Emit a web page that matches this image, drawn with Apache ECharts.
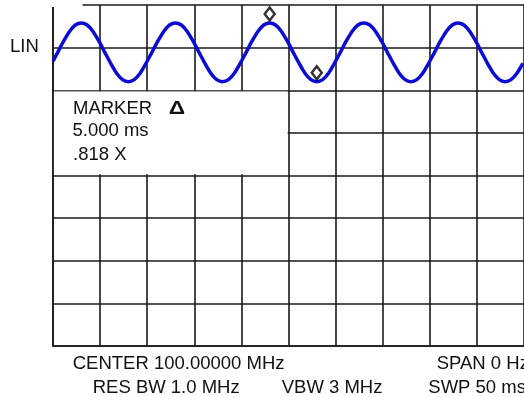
<!DOCTYPE html>
<html>
<head>
<meta charset="utf-8">
<script src="https://cdn.jsdelivr.net/npm/echarts@6/dist/echarts.min.js"></script>
<style>
  html, body { margin: 0; padding: 0; background: #fff; }
  #chart { width: 524px; height: 397px; }
</style>
</head>
<body>
<div id="chart"></div>
<script>
// Zero-span sweep: detected level on a linear scale (graticule divisions) vs time (ms)
const traceTime = [
  0,
  0.5, 1.125, 1.75, 2.375, 3, 3.625, 4.25, 4.875, 5.5, 6.125, 6.75, 7.375, 8, 8.625, 9.25, 9.875,
  10.5, 11.125, 11.75, 12.375, 13, 13.625, 14.25, 14.875, 15.5, 16.125, 16.75, 17.375, 18, 18.625, 19.25, 19.875,
  20.5, 21.125, 21.75, 22.375, 23, 23.625, 24.25, 24.875, 25.5, 26.125, 26.75, 27.375, 28, 28.625, 29.25, 29.875,
  30.5, 31.125, 31.75, 32.375, 33, 33.625, 34.25, 34.875, 35.5, 36.125, 36.75, 37.375, 38, 38.625, 39.25, 39.875,
  40.5, 41.125, 41.75, 42.375, 43, 43.625, 44.25, 44.875, 45.5, 46.125, 46.75, 47.375, 48, 48.625, 49.25, 49.875
];
const traceLevel = [
  6.68,
  6.89, 7.15, 7.38, 7.53, 7.58, 7.53, 7.38, 7.15, 6.89, 6.63, 6.40, 6.25, 6.20, 6.25, 6.40, 6.63,
  6.89, 7.15, 7.38, 7.53, 7.58, 7.53, 7.38, 7.15, 6.89, 6.63, 6.40, 6.25, 6.20, 6.25, 6.40, 6.63,
  6.89, 7.15, 7.38, 7.53, 7.58, 7.53, 7.38, 7.15, 6.89, 6.63, 6.40, 6.25, 6.20, 6.25, 6.40, 6.63,
  6.89, 7.15, 7.38, 7.53, 7.58, 7.53, 7.38, 7.15, 6.89, 6.63, 6.40, 6.25, 6.20, 6.25, 6.40, 6.63,
  6.89, 7.15, 7.38, 7.53, 7.58, 7.53, 7.38, 7.15, 6.89, 6.63, 6.40, 6.25, 6.20, 6.25, 6.40, 6.63
];

// Reference marker (peak) and delta marker (trough)
const markerTime = [23, 28];
const markerLevel = [7.58, 6.20];

// Readout and instrument settings
const scaleLabel = 'LIN';
const markerTitle = 'MARKER';
const deltaSign = '\u0394';
const markerReadout = ['5.000 ms', '.818 X'];
const footerRow1 = ['CENTER 100.00000 MHz', 'SPAN 0 Hz'];
const footerRow2 = ['RES BW 1.0 MHz', 'VBW 3 MHz', 'SWP 50 ms'];

const FONT = '18.5px "Liberation Sans", Arial, Helvetica, sans-serif';
const INK = '#111';
const GRID_LINE = { color: '#1a1a1a', width: 1.6 };

const chart = echarts.init(document.getElementById('chart'), null, { renderer: 'canvas' });

chart.setOption({
  animation: false,
  backgroundColor: '#fff',
  grid: { left: 53, top: 5, width: 475, height: 341, containLabel: false },
  xAxis: {
    type: 'value', min: 0, max: 50, interval: 5,
    axisLine: { show: true, lineStyle: GRID_LINE },
    axisTick: { show: false },
    axisLabel: { show: false },
    splitLine: { show: true, lineStyle: GRID_LINE }
  },
  yAxis: {
    type: 'value', min: 0, max: 8, interval: 1,
    axisLine: { show: true, lineStyle: GRID_LINE },
    axisTick: { show: false },
    axisLabel: { show: false },
    splitLine: { show: true, lineStyle: GRID_LINE }
  },
  series: [
    {
      type: 'line',
      data: traceTime.map((t, i) => [t, traceLevel[i]]),
      smooth: 0.3,
      showSymbol: false,
      lineStyle: { color: '#0b0bd2', width: 3.5 },
      z: 3
    },
    {
      type: 'scatter',
      data: markerTime.map((t, i) => [t, markerLevel[i]]),
      symbol: 'diamond',
      symbolSize: [10, 13],
      symbolOffset: [0, -9],
      itemStyle: { color: '#fff', borderColor: '#000', borderWidth: 2.5 },
      z: 4
    }
  ]
});

// Readout box spans two graticule rows (levels 4..6) and the left half of the screen
const boxTL = chart.convertToPixel({ gridIndex: 0 }, [0, 6]);
const boxBR = chart.convertToPixel({ gridIndex: 0 }, [25, 4]);
const origin = chart.convertToPixel({ gridIndex: 0 }, [0, 8]);
const linY = chart.convertToPixel({ gridIndex: 0 }, [0, 7])[1];

function label(text, x, y, extra, el) {
  return Object.assign({
    type: 'text', x: x, y: y, z: 20,
    style: Object.assign({ text: text, fill: INK, font: FONT, align: 'left', verticalAlign: 'middle' }, extra || {})
  }, el || {});
}

chart.setOption({
  graphic: [
    // blank corner where the top graticule line starts late
    {
      type: 'rect', z: 15,
      shape: { x: origin[0] - 4, y: 0, width: 33.5, height: origin[1] + 2 },
      style: { fill: '#fff' }
    },
    // readout area
    {
      type: 'rect', z: 15,
      shape: {
        x: boxTL[0] + 0.9, y: boxTL[1] + 1.2,
        width: boxBR[0] - boxTL[0] - 1.8, height: boxBR[1] - boxTL[1] - 2.4
      },
      style: { fill: '#fff' }
    },
    label(scaleLabel, 10, linY - 1),
    label(markerTitle, boxTL[0] + 20, boxTL[1] + 18.5),
    label(deltaSign, boxTL[0] + 124, boxTL[1] + 18.5,
      { font: 'bold 17.5px "Liberation Sans", Arial, sans-serif', align: 'center' },
      { scaleX: 1.3 }),
    label(markerReadout[0], boxTL[0] + 19.5, boxTL[1] + 41),
    label(markerReadout[1], boxTL[0] + 20, boxTL[1] + 64.5),
    label(footerRow1[0], 72.7, 364.3),
    label(footerRow1[1], 436.7, 364.3),
    label(footerRow2[0], 92.7, 387.5),
    label(footerRow2[1], 281.7, 387.5),
    label(footerRow2[2], 428.3, 387.5)
  ]
});
</script>
</body>
</html>
